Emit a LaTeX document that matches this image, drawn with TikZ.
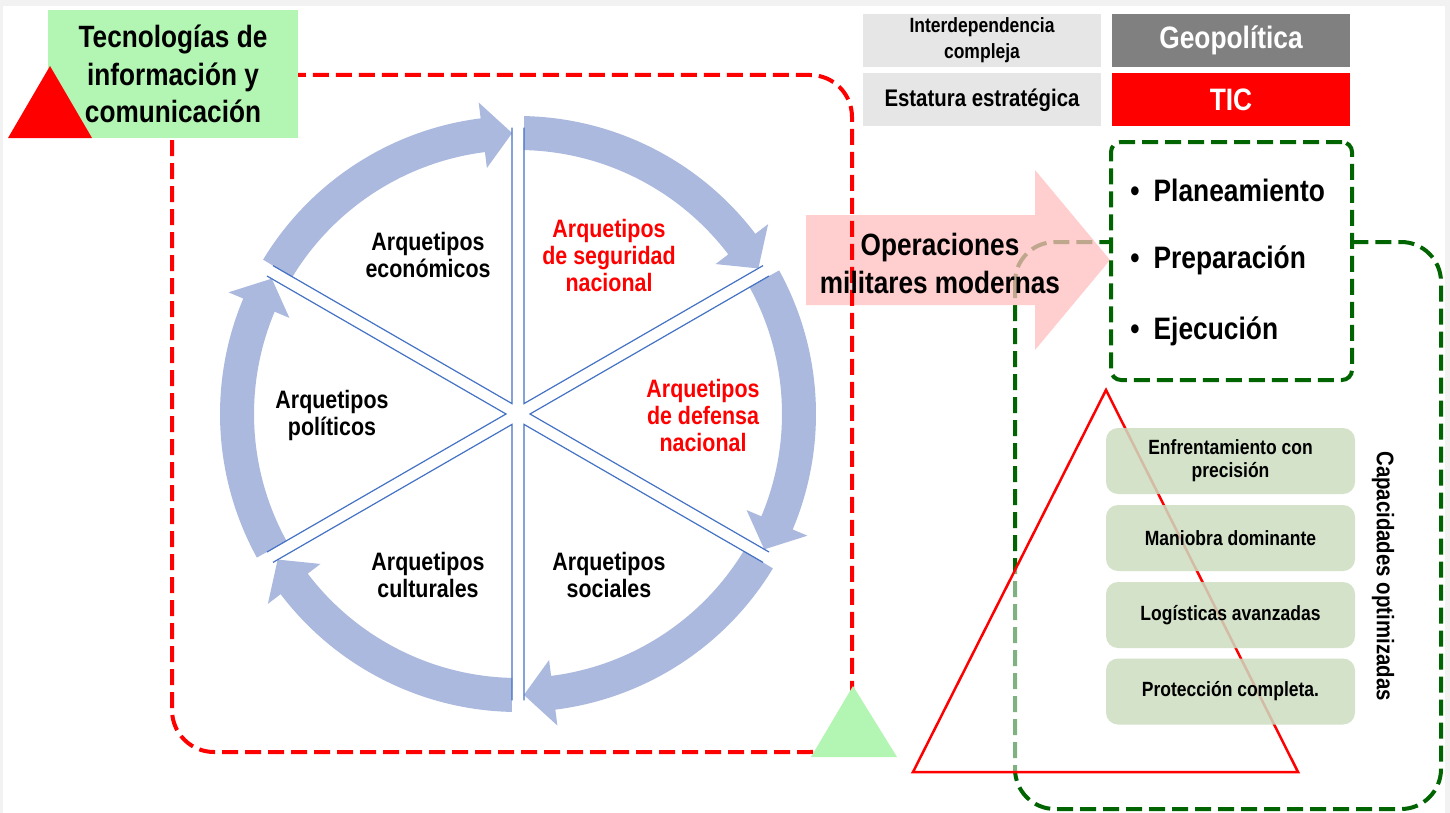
\documentclass[tikz,border=0pt]{standalone}
\usepackage{fontspec}
\setmainfont{Liberation Sans}[FakeStretch=0.85]
\usetikzlibrary{calc}
\definecolor{ringblue}{RGB}{170,185,221}
\definecolor{spokeblue}{RGB}{68,114,196}
\definecolor{lightgreen}{RGB}{179,245,179}
\definecolor{boxgreen}{RGB}{204,221,192}
\definecolor{dkgreen}{RGB}{0,100,0}
\definecolor{pinkarr}{RGB}{255,190,190}
\definecolor{lgray}{RGB}{230,230,230}
\definecolor{mgray}{RGB}{128,128,128}
\definecolor{bggray}{RGB}{242,242,242}
\begin{document}
\begin{tikzpicture}[x=0.5pt,y=-0.5pt,
  arq/.style={align=center, inner sep=0, font=\fontsize{12.6}{13.5}\selectfont\bfseries},
  cell/.style={minimum width=119pt, minimum height=26.5pt, inner sep=0, align=center},
  capbox/.style={fill=boxgreen, fill opacity=0.85, text opacity=1, rounded corners=6pt,
    minimum width=124.5pt, minimum height=33pt, inner sep=0, align=center,
    font=\fontsize{10.3}{11.5}\selectfont\bfseries},
  bullet/.style={anchor=west, inner sep=0, font=\fontsize{15.5}{16}\selectfont\bfseries},
  reddash/.style={draw=red, line width=2pt, dash pattern=on 8pt off 3.5pt},
  greendash/.style={draw=dkgreen, line width=2pt, dash pattern=on 8pt off 3.5pt}]
\useasboundingbox (0,0) rectangle (1450,813);
\fill[bggray] (0,0) rectangle (1450,813);
\fill[white] (3,6) rectangle (1445,813);

% big green dashed frame
\draw[greendash, rounded corners=20pt] (1015,242) rectangle (1441,809);

% pink arrow
\fill[pinkarr, opacity=0.75] (806,215) -- (1035,215) -- (1035,170) -- (1110,260)
  -- (1035,350) -- (1035,305) -- (806,305) -- cycle;

% red dashed frame
\draw[reddash, rounded corners=21pt] (172,75) rectangle (852,752);

% title box and triangles
\node[fill=lightgreen, minimum width=125pt, minimum height=64pt, inner sep=0, align=center,
  font=\fontsize{15.4}{18.75}\selectfont\bfseries] (tic) at (173,74)
  {Tecnologías de\\información y\\comunicación};
\fill[red] (8,138) -- (92,138) -- (50,66) -- cycle;
\fill[lightgreen] (811,757) -- (897,757) -- (853,686) -- cycle;

% ring arrows
\begin{scope}[shift={(518,414)}, x=0.5pt, y=0.5pt]
\foreach \s in {90,30,-30,-90,-150,-210} {
  \pgfmathsetmacro\a{\s-1.2}
  \pgfmathsetmacro\t{\s-60+1.2}
  \pgfmathsetmacro\b{\t+6}
  \fill[ringblue] (\a:298) arc[start angle=\a, end angle=\b, radius=298] -- (\b:314)
    -- (\t:281) -- (\b:248) -- (\b:264) arc[start angle=\b, end angle=\a, radius=264] -- cycle;
}
\foreach \b in {60,0,-60,-120,180,120} {
  \draw[spokeblue, line width=0.6pt] ($(\b:12)+(\b+30:276)$) -- (\b:12) -- ($(\b:12)+(\b-30:276)$);
}
\end{scope}

\node[arq] (econ) at (428,255) {Arquetipos\\económicos};
\node[arq, text=red] (seg) at (609,255) {Arquetipos\\de seguridad\\nacional};
\node[arq, text=red] (def) at (703,415) {Arquetipos\\de defensa\\nacional};
\node[arq] (pol) at (332,415) {Arquetipos\\políticos};
\node[arq] (cult) at (428,575) {Arquetipos\\culturales};
\node[arq] (soc) at (609,575) {Arquetipos\\sociales};

% table
\node[cell, fill=lgray, font=\fontsize{10.3}{13}\selectfont\bfseries] (inter) at (982,40.5) {Interdependencia\\compleja};
\node[cell, fill=mgray, text=white, font=\fontsize{15.5}{16}\selectfont\bfseries] (geo) at (1231,40.5) {Geopolítica};
\node[cell, fill=lgray, font=\fontsize{12}{13}\selectfont\bfseries] (est) at (982,100) {Estatura estratégica};
\node[cell, fill=red, text=white, font=\fontsize{15.5}{16}\selectfont\bfseries] (ticr) at (1231,100) {TIC};

% plan box
\node[greendash, fill=white, rounded corners=5pt, minimum width=120.5pt, minimum height=119pt, inner sep=0] (plan) at (1231.5,261) {};
\node[bullet] (b1) at (1130,190) {•\hspace{7pt}Planeamiento};
\node[bullet] (b2) at (1130,260) {•\hspace{7pt}Preparación};
\node[bullet] (b3) at (1130,331) {•\hspace{7pt}Ejecución};

% operaciones text
\node[align=center, inner sep=0, font=\fontsize{15.4}{19}\selectfont\bfseries] (ops) at (940,263) {Operaciones\\militares modernas};

% red triangle outline
\draw[red, line width=1.25pt, fill=white, fill opacity=0.5] (913,772) -- (1298,772) -- (1106,390) -- cycle;

% capacity boxes
\node[capbox] (c1) at (1230.5,461) {Enfrentamiento con\\precisión};
\node[capbox] (c2) at (1230.5,538) {Maniobra dominante};
\node[capbox] (c3) at (1230.5,615) {Logísticas avanzadas};
\node[capbox] (c4) at (1230.5,691.5) {Protección completa.};

\node[rotate=-90, inner sep=0, font=\fontsize{12}{13}\selectfont\bfseries] (cap) at (1383,576) {Capacidades optimizadas};
\end{tikzpicture}
\end{document}
